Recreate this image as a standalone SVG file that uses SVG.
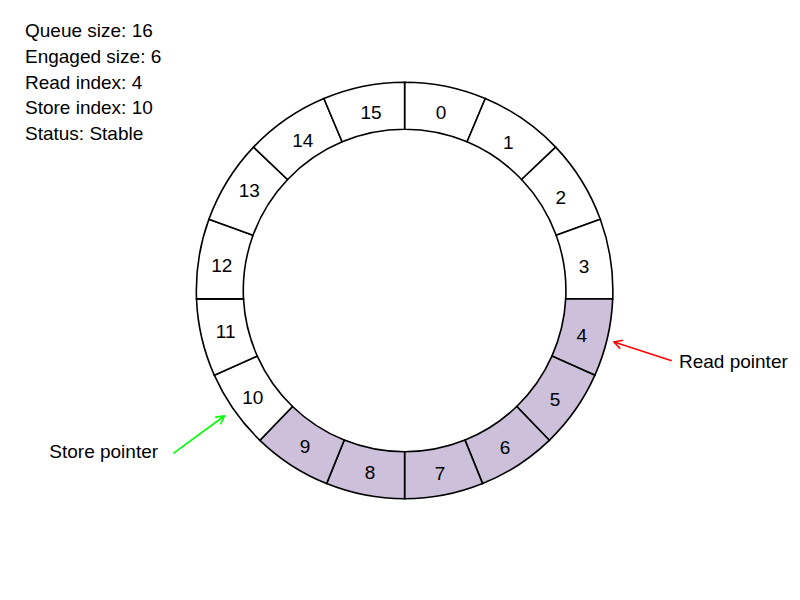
<svg xmlns="http://www.w3.org/2000/svg" width="800" height="600" viewBox="0 0 800 600">
<defs>
<style>
.seg path{stroke:#000;stroke-width:1.6;fill:#fff}
.seg.on path{fill:#CCC0DA}
text{font-family:"Liberation Sans",Arial,sans-serif;font-size:19px;fill:#000}
.n{text-anchor:middle}
</style>
<marker id="ahR" markerUnits="userSpaceOnUse" markerWidth="14" markerHeight="14" refX="12" refY="7" orient="auto">
<path d="M4,2.5 L12,7 L4,11.5" fill="none" stroke="#FF0000" stroke-width="1.6"/>
</marker>
<marker id="ahG" markerUnits="userSpaceOnUse" markerWidth="14" markerHeight="14" refX="12" refY="7" orient="auto">
<path d="M4,2.5 L12,7 L4,11.5" fill="none" stroke="#00FF00" stroke-width="1.6"/>
</marker>
</defs>
<rect width="800" height="600" fill="#fff"/>
<g id="info">
<text x="25" y="37">Queue size: 16</text>
<text x="25" y="62.7">Engaged size: 6</text>
<text x="25" y="88.5">Read index: 4</text>
<text x="25" y="114.3">Store index: 10</text>
<text x="25" y="140">Status: Stable</text>
</g>
<g id="seg0" class="seg"><path d="M404.6,82.2 A208.3,208.3 0 0 1 485.3,98.5 L467.1,141.8 A161.3,161.3 0 0 0 404.6,129.2 Z"/><text class="n" x="441" y="119.3">0</text></g>
<g id="seg1" class="seg"><path d="M485.3,98.5 A208.3,208.3 0 0 1 555.7,147.1 L521.6,179.5 A161.3,161.3 0 0 0 467.1,141.8 Z"/><text class="n" x="508.3" y="149.3">1</text></g>
<g id="seg2" class="seg"><path d="M555.7,147.1 A208.3,208.3 0 0 1 600.3,219.3 L556.2,235.3 A161.3,161.3 0 0 0 521.6,179.5 Z"/><text class="n" x="560.7" y="203.9">2</text></g>
<g id="seg3" class="seg"><path d="M600.3,219.3 A208.3,208.3 0 0 1 612.7,298.9 L565.7,298.9 A161.3,161.3 0 0 0 556.2,235.3 Z"/><text class="n" x="584" y="273.3">3</text></g>
<g id="seg4" class="seg on"><path d="M612.7,298.9 A208.3,208.3 0 0 1 594.9,375.2 L551.9,356.1 A161.3,161.3 0 0 0 565.7,298.9 Z"/><text class="n" x="581.7" y="342.3">4</text></g>
<g id="seg5" class="seg on"><path d="M594.9,375.2 A208.3,208.3 0 0 1 549.3,440.3 L516.7,406.5 A161.3,161.3 0 0 0 551.9,356.1 Z"/><text class="n" x="555" y="405.9">5</text></g>
<g id="seg6" class="seg on"><path d="M549.3,440.3 A208.3,208.3 0 0 1 482.6,483.6 L465,440.1 A161.3,161.3 0 0 0 516.7,406.5 Z"/><text class="n" x="505" y="454.3">6</text></g>
<g id="seg7" class="seg on"><path d="M482.6,483.6 A208.3,208.3 0 0 1 404.6,498.8 L404.6,451.8 A161.3,161.3 0 0 0 465,440.1 Z"/><text class="n" x="440" y="479.9">7</text></g>
<g id="seg8" class="seg on"><path d="M404.6,498.8 A208.3,208.3 0 0 1 326.6,483.6 L344.2,440.1 A161.3,161.3 0 0 0 404.6,451.8 Z"/><text class="n" x="370" y="479.3">8</text></g>
<g id="seg9" class="seg on"><path d="M326.6,483.6 A208.3,208.3 0 0 1 259.9,440.3 L292.5,406.5 A161.3,161.3 0 0 0 344.2,440.1 Z"/><text class="n" x="305" y="453.3">9</text></g>
<g id="seg10" class="seg"><path d="M259.9,440.3 A208.3,208.3 0 0 1 214.3,375.2 L257.3,356.1 A161.3,161.3 0 0 0 292.5,406.5 Z"/><text class="n" x="252.7" y="404.3">10</text></g>
<g id="seg11" class="seg"><path d="M214.3,375.2 A208.3,208.3 0 0 1 196.5,298.9 L243.5,298.9 A161.3,161.3 0 0 0 257.3,356.1 Z"/><text class="n" x="225.7" y="338.3">11</text></g>
<g id="seg12" class="seg"><path d="M196.5,298.9 A208.3,208.3 0 0 1 208.9,219.3 L253,235.3 A161.3,161.3 0 0 0 243.5,298.9 Z"/><text class="n" x="221.7" y="272.3">12</text></g>
<g id="seg13" class="seg"><path d="M208.9,219.3 A208.3,208.3 0 0 1 253.5,147.1 L287.6,179.5 A161.3,161.3 0 0 0 253,235.3 Z"/><text class="n" x="249.3" y="197.3">13</text></g>
<g id="seg14" class="seg"><path d="M253.5,147.1 A208.3,208.3 0 0 1 323.9,98.5 L342.1,141.8 A161.3,161.3 0 0 0 287.6,179.5 Z"/><text class="n" x="302.7" y="147.3">14</text></g>
<g id="seg15" class="seg"><path d="M323.9,98.5 A208.3,208.3 0 0 1 404.6,82.2 L404.6,129.2 A161.3,161.3 0 0 0 342.1,141.8 Z"/><text class="n" x="371" y="119.3">15</text></g>
<g id="connectors" fill="none" stroke-width="1.6">
<line x1="671.7" y1="360.7" x2="614" y2="342" stroke="#FF0000" marker-end="url(#ahR)"/>
<line x1="173.3" y1="453.3" x2="224.3" y2="416" stroke="#00FF00" marker-end="url(#ahG)"/>
</g>
<g id="labels">
<text x="679" y="368.3">Read pointer</text>
<text x="49.3" y="458.3">Store pointer</text>
</g>
</svg>
